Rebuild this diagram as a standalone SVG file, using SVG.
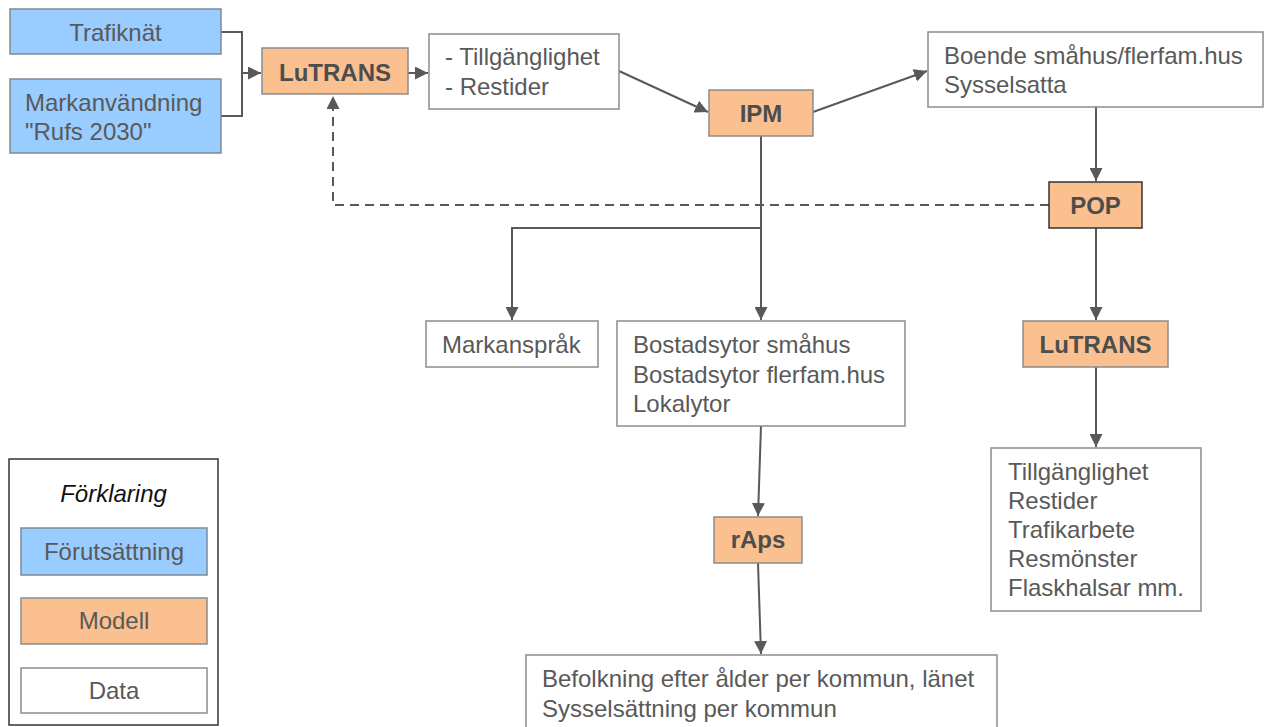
<svg xmlns="http://www.w3.org/2000/svg" width="1264" height="727" viewBox="0 0 1264 727">
<style>
text{font-family:"Liberation Sans",Arial,sans-serif;font-size:24px;fill:#595959}
.b{font-weight:bold;fill:#4d4d4d;text-anchor:middle}
.c{text-anchor:middle}
.pre{fill:#99ccff;stroke:#7f8a96;stroke-width:1.5}
.mod{fill:#fac090;stroke:#8c8c8c;stroke-width:1.5}
.dat{fill:#ffffff;stroke:#8c8c8c;stroke-width:1.5}
.ln{fill:none;stroke:#595959;stroke-width:2}
.dash{stroke-dasharray:9 6}
</style>
<defs>
<marker id="ah" viewBox="0 0 10 10" refX="10" refY="5" markerWidth="6.5" markerHeight="6.5" markerUnits="strokeWidth" orient="auto">
<path d="M0,0 L10,5 L0,10 z" fill="#595959"/>
</marker>
</defs>
<rect width="1264" height="727" fill="#ffffff"/>
<g id="connectors">
<polyline class="ln" points="221,32 242,32 242,116 221,116"/>
<line class="ln" x1="242" y1="73" x2="261" y2="73" marker-end="url(#ah)"/>
<line class="ln" x1="408" y1="73" x2="428" y2="73" marker-end="url(#ah)"/>
<line class="ln" x1="619" y1="71" x2="708" y2="112" marker-end="url(#ah)"/>
<line class="ln" x1="813" y1="112" x2="927" y2="71" marker-end="url(#ah)"/>
<line class="ln" x1="1096" y1="107" x2="1096" y2="181" marker-end="url(#ah)"/>
<polyline class="ln dash" points="1049,205 333,205 333,96" marker-end="url(#ah)"/>
<line class="ln" x1="1096" y1="228" x2="1096" y2="320" marker-end="url(#ah)"/>
<line class="ln" x1="1096" y1="367" x2="1096" y2="447" marker-end="url(#ah)"/>
<line class="ln" x1="761" y1="136" x2="761" y2="320" marker-end="url(#ah)"/>
<polyline class="ln" points="761,228 512,228 512,320" marker-end="url(#ah)"/>
<line class="ln" x1="761" y1="426" x2="758" y2="516" marker-end="url(#ah)"/>
<line class="ln" x1="758" y1="563" x2="761" y2="654" marker-end="url(#ah)"/>
</g>
<g id="trafiknat"><rect class="pre" x="10" y="9" width="211" height="45"/><text class="c" x="115.5" y="41">Trafiknät</text></g>
<g id="markanvandning"><rect class="pre" x="10" y="79" width="211" height="74"/><text x="25" y="111">Markanvändning</text><text x="25" y="140">"Rufs 2030"</text></g>
<g id="lutrans1"><rect class="mod" x="262" y="48" width="146" height="46"/><text class="b" x="335" y="81">LuTRANS</text></g>
<g id="tillg1"><rect class="dat" x="429" y="34" width="190" height="75"/><text x="445" y="65">- Tillgänglighet</text><text x="445" y="95">- Restider</text></g>
<g id="ipm"><rect class="mod" x="709" y="90" width="104" height="46"/><text class="b" x="761" y="122">IPM</text></g>
<g id="boende"><rect class="dat" x="928" y="32" width="335" height="75"/><text x="944" y="64">Boende småhus/flerfam.hus</text><text x="944" y="93">Sysselsatta</text></g>
<g id="pop"><rect class="mod" x="1049" y="182" width="93" height="46" style="stroke:#333333"/><text class="b" x="1095.5" y="214">POP</text></g>
<g id="lutrans2"><rect class="mod" x="1023" y="321" width="145" height="46"/><text class="b" x="1095.5" y="353">LuTRANS</text></g>
<g id="tillg2"><rect class="dat" x="991" y="448" width="210" height="163"/><text x="1008" y="480">Tillgänglighet</text><text x="1008" y="509">Restider</text><text x="1008" y="538">Trafikarbete</text><text x="1008" y="567">Resmönster</text><text x="1008" y="596">Flaskhalsar mm.</text></g>
<g id="markansprak"><rect class="dat" x="426" y="321" width="172" height="46"/><text x="442" y="353">Markanspråk</text></g>
<g id="bostad"><rect class="dat" x="617" y="321" width="288" height="105"/><text x="633" y="353">Bostadsytor småhus</text><text x="633" y="383">Bostadsytor flerfam.hus</text><text x="633" y="412">Lokalytor</text></g>
<g id="raps"><rect class="mod" x="714" y="517" width="88" height="46"/><text class="b" x="758" y="548">rAps</text></g>
<g id="befolkning"><rect class="dat" x="526" y="655" width="471" height="80"/><text x="542" y="687">Befolkning efter ålder per kommun, länet</text><text x="542" y="717">Sysselsättning per kommun</text></g>
<g id="legend">
<rect x="9" y="459" width="209" height="266" fill="#ffffff" stroke="#333333" stroke-width="1.5"/>
<text class="c" x="113.5" y="502" style="font-style:italic;fill:#111111">Förklaring</text>
<rect class="pre" x="21" y="528" width="186" height="47"/><text class="c" x="114" y="560">Förutsättning</text>
<rect class="mod" x="21" y="598" width="186" height="46"/><text class="c" x="114" y="629">Modell</text>
<rect class="dat" x="21" y="668" width="186" height="45"/><text class="c" x="114" y="699">Data</text>
</g>
</svg>
